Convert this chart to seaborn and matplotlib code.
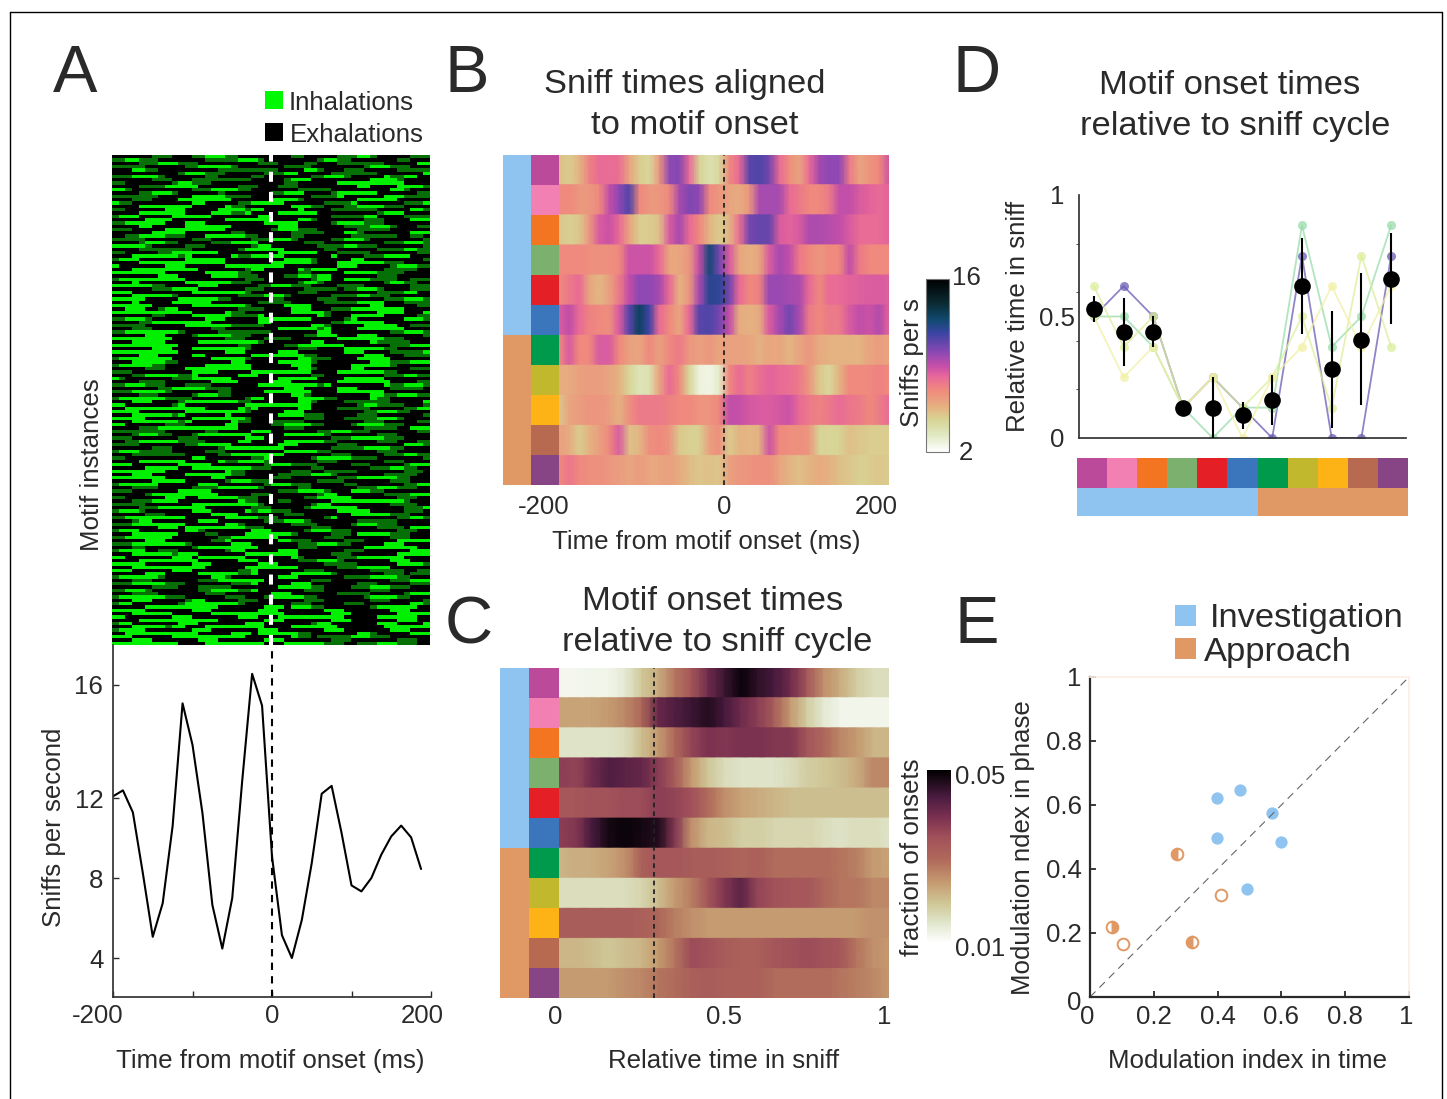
import numpy as np
import pandas as pd
import matplotlib
matplotlib.use("Agg")
import matplotlib.pyplot as plt
import seaborn as sns
from matplotlib.colors import LinearSegmentedColormap, ListedColormap
from matplotlib.lines import Line2D
from matplotlib.transforms import Affine2D

W, H = 1447, 1099
TEXT = "#2a2a2a"

motif_colors = ["#bb4a9b", "#f380b3", "#f47521", "#7cb06f", "#e41f26", "#3b75bb",
                "#009a4c", "#c2b82e", "#fdb316", "#b76a4f", "#874586"]
group_colors = ["#8fc4f0", "#e09865"]
group_codes = [0, 0, 0, 0, 0, 0, 1, 1, 1, 1, 1]

# panel A, raster: . exhalation, - faint inhalation, # inhalation
raster_rows = [
    "......---...--###--........--.....---##-.....---",
    "--##---.......-----###-........-##--.......--...",
    "....---###---.........---....--...-------.....##",
    "-----......--#####-.......----........-###---...",
    "...##--.........---------....##-...---.....-----",
    "..........-###---......---##.....-------.......#",
    "---####-......--.....--.......--###-.....---##..",
    "......---...---------.....-###.........-----....",
    "--.......-##---...........--......---####---....",
    "....----#####......---...---.........--....-###-",
    "##-.........---####--.......-----.........---...",
    "....--###-......-.......--###....--####-......--",
    "-------.....---------.........-----......###----",
    "...---....###-----......-##--........---##-.....",
    "#--.........--.....---####......-----.......---#",
    "....-####---.....---.......-----...--####---....",
    "--......---.....-###---.....-....-------.....##-",
    "....-------....------....---###.........-###....",
    "-###.....--###-.......--.........-----##....----",
    ".....----........--####-....---.......---....###",
    "--#####-...---.........--##-.....-####---.......",
    "....--.....-------.......---.......----###-...--",
    "---.....--######-.......-###---......-----......",
    "......-----.......--.......-----...##-.......###",
    "..--####---...-#####--.....--.......-------..--.",
    "-----.......---......---###-.....--###-........-",
    "....-###--.....---####.......---.........---###-",
    "#####-.....---.......---.......----##---.......-",
    "....--------.......-####--......--......----##--",
    "--.....--####---.........---###...-----.......--",
    "...-######--......--------.......-....---####...",
    "----.......-####-.........--##-.....--.........-",
    "....--########---.......-------...-----##---....",
    "-.......---......--####---........---.....-###--",
    "...----#####-.......---.....--###-.......-----..",
    "--###---......-------.......--.....-####----....",
    ".......---.....-###---....--##---.......---.....",
    "-----####--.........---.......---..--------..---",
    "...-.......-#####----.......-##-.........-##--..",
    "---###--.....---......--###---....----.......---",
    "......-------.......---......-----.--###-....---",
    "#--.........--######-.......---.........----##..",
    "...---###-.........----###-......----##---......",
    "-----.....---##---......--.....---.......---###-",
    "...-.....------.......-----.....-----###-...----",
    "####--......-----###-.....-##-.........--.....--",
    "..---..---.........----....---...---####----....",
    "----####----.....---.......---##-.......----...#",
    "......--....-#####-----........--...-----.....--",
    "--###-........---.....--####--.....--.......###-",
    "....--######---.......--.........--####--.......",
    "-----......---####-----.......---.....-----..---",
    "...---.........--........--###---....-----##....",
    "--########-.....--------.......--.........--###-",
    ".....---....-#####---........--##-...---.......-",
    "#####----........---...----.......--#####---....",
    "...-----.....----#####-.......--.......------...",
    "-###------.........--.....--###----.......---###",
    "......---...-###-----.......---....-#####--.....",
    "---######-.......---.....---.......---....-----#",
    "....---.....--.......-######---.......---...----",
    "----###--......-####-.......-----....-###-......",
    "...-------........--.....--###-........------###",
    "-#####--......-------......---......---##--.....",
    ".....---...--#######-.......---.....--.......---",
    "---.........----.....--####---....--####---.....",
    "...--#####---......---........--.........---##--",
    "#-.......----###--.......---###....------.......",
    "....----.......----.....---.......-#####--....--",
    "--###---...----.......--###------........---###-",
    ".......--#####----........---.....---.....-----.",
    "---#####-.......--.....--####-....-###---.......",
    "....---.....-###--.........---.........----###--",
    "-----###----........---.....-###--.....---......",
    "...---....---####----.......---....-------.....#",
    "--.......--.........--#####---.......-##----...-",
    "..-########---.....---......--....-----.....--##",
    "----.......-----###--.....---.........--###--...",
    "...--###---......-.......-###---.....---.......-",
    "-----.......--######-........---...-----###-....",
    "...---####--......---...-----.........---.....--",
    "#-......---......--.....--####--....-####---....",
    "....---###########-.......---.........-----..###",
    "--------......--.....---.......--###---.......--",
    "...-###--...-####----.....---###-.......---.....",
    "---.......---.......---..........---#####---....",
    "..--######----.....--.....--####--......---...--",
    "----.......--####-.......---......---.......###-",
    "......---.......---##-----.......-----####--....",
    "-###-----.....---.........--###--.......---.....",
    "...--------.....--#######-.......---.....---##--",
    "--..........--.......---......-#####----.......-",
    "....-####--.....---####-.......---.......---....",
    "---.......-----........-###----.....---.....-###",
    ".....-----..-########---......--.......---##--..",
    "#####---.........---.......---..-----.......---.",
    "...---.....---####--.....-----###-.......-----..",
    "--###---.......--.......---.......---######--...",
    "......-----......-###---.......----.......---...",
    "-#####-......---.......-###---.....--.......--##",
    "...----.....----######-.....--.......---###---..",
    "---.......-----..........---####-...-----.......",
    ".....-#######---.....---.......---.......----###",
    "--......---..--###----.......---###-.......---..",
    "...---###-.........---...--......-----######-...",
    "-----.......---#######-.......---.........----..",
    "....----###---.......---.....-###----.......---#",
    "-###-.......---.....--##---.......-----.....---.",
    ".....---.......----.......---.......--####---...",
    "--######---......-####---.......--.........--##-",
    "...---.......---.......---###-.......------.....",
    "----###----......---.......----.....-###---.....",
    ".......---.--#######---.......---.......----.###",
    "-##-.......---.......---.....-###---.......---..",
    "...-------....--....---####-.....---.#####---...",
    "--####---.......---#####-.......---.......---...",
    ".....---.......---.......-----.....---.....--###",
    "---#######--......---.......---###--.....---....",
    "...--.......-######---......---.......-####---..",
    "-----..---.......---.....---.......---.......---",
    "...-#####----.......---###--.....---.......---##",
    "--.......---.###----.......--.....---####---....",
    "....---###---......---......---###-.......---...",
    "-----.......---.......---.......-----......-###-",
    "...--#######--......--####--......---###--......",
    "---......---.......---.......---.......-----..--",
    ".....---.....-#####---.....--####-.......---.---",
    "-###----.......---.......---.......----####--...",
    "...---.......---#####--.......---.........---###",
    "---#####---.......----.....---.......---.....---",
    "......----...-----.......-###---....---###---...",
    "--###-.......--####---.......---.......---......",
    "...----.......---.......---.......-----.....-###",
    "-#######---......---...-#####--.......-####--...",
    "...---.....---.....---.......---.......---.....-",
    "---.......-#####----.......---.....---.......---",
    ".....--######---.......---.###--.......-###---..",
    "-----.......---.......---.......---.......---...",
    "...-###--......---#####---.......---.......---##",
    "--.......---.......---...--####----.....-####-..",
    "....---#######--.......---.......---.......---..",
    "---.......---.......---.......---.......---....#",
    "...--###---...-######--....-###---.......-###---",
    "-----.......---.......---.......---.......---...",
    "..-#######---.....---.######--.......---.....###",
    "---......--######---.......---.-----###---......",
    "...---.......---.......---.......---.......---..",
    "--#####---....--####---...-#####---..---###---..",
]
raster_levels = {".": 0, "-": 1, "#": 2}
# brighter patches of inhalations: time in ms, raster row
patch_ms = [-143, -86, -93, 8, 121, -165, -83, 8, -93, 91, -194, -98, 133, 24, -161, -77, -68, 91,
            108, 8, 11, -81, -169, 108, 8, -26, 11, -165, -98, -102, 96, -68, -140, -18, -10, -89,
            -174, 153, 8, -161, -77, 96, -1, -10, -161, -89, 162]
patch_row = [19, 20, 15, 17, 10, 34, 33, 31, 38, 34, 43, 47, 48, 49, 58, 60, 64, 56,
             62, 63, 68, 77, 77, 69, 75, 85, 87, 95, 95, 105, 105, 107, 113, 117, 120, 123,
             123, 120, 128, 138, 138, 140, 139, 145, 146, 143, 139]

# panel A, sniff rate
sniff_times = [-200, -187.5, -175, -162.5, -150, -137.5, -125, -112.5, -100, -87.5, -75, -62.5,
               -50, -37.5, -25, -12.5, 0, 12.5, 25, 37.5, 50, 62.5, 75, 87.5,
               100, 112.5, 125, 137.5, 150, 162.5, 175, 187.5]
sniff_rate = [12.06, 12.27, 11.28, 8.25, 5.06, 6.74, 10.6, 15.35, 13.88, 11.25, 6.65, 4.47,
              7.0, 12.6, 16.39, 15.27, 9.08, 5.14, 4.0, 5.9, 8.75, 12.15, 12.43, 10.25,
              7.63, 7.33, 8.0, 9.17, 10.08, 10.62, 10.03, 8.45]
rate_ticks = [4, 8, 12, 16]
# the axis labels are not evenly spaced in the figure, 12 to 16 is stretched
rate_marks = [2.05, 4, 8, 12, 16, 17.4]
rate_pixels = [0, 39, 119, 199, 312, 352]

# panel B, sniffs per s, one row per motif
sniff_heat = [
    [5.2, 4.8, 5.5, 7.2, 8, 8, 7.8, 6, 4.8, 4.4, 6.5, 10, 10.2, 8, 4.6, 3.8, 4.4, 7, 8, 11, 11.2, 10.5, 8, 6.8, 6, 8, 9.6, 10, 10, 7.5, 6, 6.6, 7, 8.8],
    [7, 7, 6.5, 6.5, 7, 9, 10, 11.2, 7, 6.5, 6.5, 7, 9.5, 10.3, 10, 7, 6.5, 6, 5.8, 6.5, 9.5, 9.6, 9.5, 8, 7.5, 7, 7, 7.5, 9, 9, 8.5, 8.2, 8, 8.2],
    [5, 4.7, 5, 6.5, 8.5, 8.8, 8, 6, 4.8, 4.8, 5.2, 8.5, 9.5, 8, 7, 5.5, 4.8, 5.5, 7.8, 10.5, 10.8, 10.8, 8.5, 8.2, 8.5, 9.4, 9.4, 9.2, 9, 8.5, 8, 8, 8, 8.2],
    [7, 7, 7, 6.8, 6.8, 6.8, 7, 8.8, 8.8, 8.8, 8, 6, 6, 6.5, 9, 12.5, 10.5, 8.5, 6, 5.6, 6, 8.5, 9.5, 9, 7.5, 7, 6.5, 7, 7, 9, 7.5, 7, 7, 7],
    [7, 7.5, 8, 6, 5.4, 6.2, 7.5, 9, 10, 10, 9.5, 8, 5.6, 6.5, 9.5, 12, 11.8, 10.5, 8, 7, 7.2, 9.8, 9.8, 9.6, 9.4, 8, 7, 8, 8, 8.2, 8.3, 8.5, 8.5, 8.3],
    [8.5, 9, 8, 7.2, 7, 6.8, 8.5, 11, 13, 11.5, 8, 7, 6, 8, 11, 11.2, 10.5, 9, 5.8, 5.6, 5.8, 8.5, 9.5, 10.5, 9.5, 7.5, 7, 7.5, 7.5, 8.5, 9, 8.8, 9.3, 8.2],
    [7, 8.5, 7, 7, 8.5, 8.5, 7, 6.2, 6, 7, 6.2, 7, 7.5, 6.5, 6.2, 6.5, 6, 6.2, 6.2, 6, 5.6, 6, 6, 5.5, 6, 6.5, 5.8, 5.6, 5.6, 5.6, 5.5, 6, 6.3, 6],
    [5.8, 5.8, 6.2, 6.3, 6.3, 6, 5.6, 4.5, 3.6, 3.8, 6, 8, 7, 4.5, 2.8, 2.6, 3.2, 7, 8, 7.2, 7.8, 8.2, 8, 7.8, 7.5, 6.5, 5, 4.4, 5.5, 7, 7, 7, 7.2, 7],
    [5, 6, 6.3, 6.6, 6.6, 6.3, 5.6, 6.8, 7.5, 7.5, 7.5, 7.2, 7, 7, 6.6, 6.6, 7, 9, 8.9, 8.6, 8.5, 8.4, 8.6, 8.8, 8, 7.5, 7.2, 7.5, 8, 7.6, 7.5, 7, 7.4, 8],
    [6.2, 5.8, 4.8, 5.6, 6.2, 7, 8.5, 5.2, 5.4, 6.8, 7, 6.6, 4.9, 4.7, 4.7, 6.2, 6.8, 4.8, 5.6, 5.4, 5.6, 8.8, 7, 6.8, 6.8, 6.5, 4.6, 4.5, 4.6, 5.2, 5, 4.8, 4.8, 4.8],
    [7, 7.6, 7, 6.8, 6.8, 6.5, 6.3, 6, 6.3, 6, 6, 6.2, 5.8, 5.3, 5, 5.2, 5, 6.2, 6.5, 6.6, 6.8, 6.8, 6, 5.5, 5.2, 5.5, 5.8, 5.6, 5.2, 5, 4.7, 4.8, 5, 4.8],
]
sniff_levels = [2, 3.4, 4.6, 5.65, 7, 8.1, 8.9, 10, 11.6, 12.7, 14, 16]
sniff_shades = ["#ffffff", "#dfe8c0", "#d8d494", "#e6b080", "#f08a7e", "#e8689a",
                "#c850a8", "#9048b4", "#3c44a4", "#104a70", "#0c2c34", "#000000"]

# panel C, fraction of onsets x 1000
onset_heat = [
    [11.5, 11.5, 12, 12, 14, 19, 22, 28, 33, 40, 45, 49, 46, 44, 40, 33, 25, 22, 18, 16, 16],
    [23, 23, 23, 24, 26, 30, 41, 43, 45, 47, 44, 40, 37, 32, 24, 18, 14, 12, 12, 12, 12],
    [15, 15, 15, 15, 16, 20, 24, 30, 36, 39, 38, 39, 39, 38, 38, 33, 30, 26, 24, 21, 21],
    [37, 36, 40, 43, 42, 41, 37, 32, 24, 19, 16, 15, 15, 15, 16, 18, 19, 20, 22, 26, 26],
    [33, 33, 34, 34, 35, 35, 37, 36, 34, 29, 25, 23, 22, 21, 20, 20, 20, 20, 20, 20, 20],
    [37, 38, 44, 48, 49, 48, 47, 38, 25, 21, 20, 18, 18, 17, 17, 17, 16, 15, 16, 16, 15],
    [21, 22, 22, 23, 25, 31, 33, 33, 32, 32, 31, 30, 31, 29, 29, 29, 29, 28, 27, 24, 23],
    [16, 16, 16, 16, 16, 17, 20, 24, 27, 33, 38, 42, 36, 34, 33, 33, 30, 28, 28, 26, 26],
    [32, 32, 32, 32, 32, 31, 30, 27, 25, 24, 24, 24, 24, 24, 24, 24, 24, 24, 24, 25, 25],
    [21, 21, 20, 19, 20, 21, 24, 28, 35, 34, 32, 31, 31, 33, 34, 35, 34, 33, 28, 25, 24],
    [24, 24, 24, 24, 25, 26, 28, 29, 31, 32, 31, 31, 31, 29, 29, 29, 29, 28, 27, 26, 24],
]
onset_levels = [10, 14.6, 19.2, 23.8, 29.2, 34.6, 39.2, 43.8, 50]
onset_shades = ["#ffffff", "#e0e6cc", "#cfc695", "#c69c72", "#b06a5a", "#a0505a",
                "#7a3050", "#4a1c40", "#000000"]

# panel D
motif_pos = [1, 2, 3, 4, 5, 6, 7, 8, 9, 10, 11]
session_a = [0.5, 0.625, 0.5, 0.125, 0.25, 0.125, 0, 0.75, 0, 0, 0.75]
session_b = [0.5, 0.5, 0.375, 0.125, 0, 0.125, 0.125, 0.875, 0.375, 0.5, 0.875]
session_c = [0.625, 0.375, 0.5, 0.125, 0.25, 0.125, 0.25, 0.5, 0.125, 0.75, 0.375]
session_d = [0.5, 0.25, 0.375, 0.125, 0.25, 0, 0.25, 0.375, 0.625, 0.375, 0.625]
session_colors = ["#6a5cb4", "#98dcaa", "#dcee9a", "#f2f0a6"]
phase_mean = [0.53, 0.437, 0.437, 0.124, 0.124, 0.093, 0.158, 0.625, 0.282, 0.405, 0.656]
phase_low = [0.478, 0.298, 0.375, 0.124, 0, 0.038, 0.052, 0.427, 0.041, 0.135, 0.471]
phase_high = [0.585, 0.577, 0.5, 0.124, 0.249, 0.148, 0.261, 0.821, 0.522, 0.677, 0.842]

# panel E
invest_time = [0.399, 0.471, 0.569, 0.399, 0.598, 0.491]
invest_phase = [0.622, 0.646, 0.576, 0.497, 0.484, 0.339]
open_time = [0.411, 0.104]
open_phase = [0.319, 0.165]
half_time = [0.07, 0.272, 0.319]
half_phase = [0.218, 0.447, 0.171]
half_side = ["right", "left", "left"]


def panel(x0, y0, x1, y1):
    # pixel box of the original image, y from the top
    return fig.add_axes([x0 / W, 1 - y1 / H, (x1 - x0) / W, (y1 - y0) / H])


def label(x, y, s, size=18.6, **kw):
    kw.setdefault("ha", "center")
    kw.setdefault("va", "center")
    fig.text(x / W, 1 - y / H, s, fontsize=size, color=TEXT, **kw)


def nudge(lab, dx, dy=0):
    lab.set_transform(lab.get_transform() + Affine2D().translate(dx, -dy))


def color_strip(box, codes, colors):
    ax = panel(*box)
    sns.heatmap(codes, cmap=ListedColormap(colors), cbar=False, ax=ax,
                xticklabels=False, yticklabels=False, vmin=0, vmax=len(colors) - 1)
    return ax


def smooth_heat(box, cbar_box, rows, cmap, vmin, vmax):
    # rows are repeated so gouraud shading only blends along the time axis
    ax = panel(*box)
    cax = panel(*cbar_box)
    sns.heatmap(np.repeat(np.array(rows), 30, axis=0), cmap=cmap, vmin=vmin, vmax=vmax,
                ax=ax, cbar_ax=cax, xticklabels=False, yticklabels=False, shading="gouraud")
    ax.set_xlim(0, len(rows[0]) - 1)
    ax.set_ylim(len(rows) * 30 - 1, 0)
    return ax, cax


sns.set_theme(style="white", font="Liberation Sans",
              rc={"axes.edgecolor": "#333333", "text.color": TEXT,
                  "xtick.color": TEXT, "ytick.color": TEXT})
fig = plt.figure(figsize=(W / 100, H / 100), dpi=100)

# image frame
for xs, ys in [((10, 1442), (12, 12)), ((10, 10), (12, 1099)), ((1442, 1442), (12, 1099))]:
    fig.add_artist(Line2D([x / W for x in xs], [1 - y / H for y in ys], color="black", lw=1))

# A raster
ax_raster = panel(112, 155, 430, 645)
raster = np.array([[raster_levels[c] for c in row.ljust(48, ".")[:48]] for row in raster_rows])
rows_idx, cols_idx = np.indices(raster.shape)
in_patch = np.zeros(raster.shape, dtype=bool)
for ms, row in zip(patch_ms, patch_row):
    col = (ms + 200) / 400 * raster.shape[1]
    in_patch |= ((cols_idx - col) / 5) ** 2 + ((rows_idx - row) / 5) ** 2 < 1
raster[in_patch & (raster == 1)] = 2
sns.heatmap(raster, cmap=ListedColormap(["#000000", "#067006", "#00f000"]), cbar=False,
            ax=ax_raster, xticklabels=False, yticklabels=False)
ax_raster.axvline(24, color="white", lw=2.9, ls=(0, (2.5, 2.5)), dash_capstyle="butt")

# A rate trace
ax_rate = panel(113, 645, 431, 997)
ax_rate.set_yscale("function", functions=(lambda v: np.interp(v, rate_marks, rate_pixels),
                                          lambda p: np.interp(p, rate_pixels, rate_marks)))
sns.lineplot(x=sniff_times, y=sniff_rate, color="black", lw=1.5, errorbar=None, ax=ax_rate)
ax_rate.axvline(0, color="black", lw=1.5, ls=(0, (3.5, 3)))
ax_rate.set_xlim(-200, 200)
ax_rate.set_ylim(rate_marks[0], rate_marks[-1])
sns.despine(ax=ax_rate)
ax_rate.set_yticks(rate_ticks, [str(v) for v in rate_ticks])
ax_rate.set_yticks([], minor=True)
ax_rate.set_xticks([-200, -100, 0, 100, 200], ["-200", "", "0", "", "200"])
ax_rate.tick_params(axis="x", direction="in", length=4, width=1, labelsize=18.6, pad=5, bottom=True)
ax_rate.tick_params(axis="y", direction="in", length=4, width=1, labelsize=18.6, pad=7, left=True)
labs = ax_rate.get_xticklabels()
nudge(labs[0], -15)
nudge(labs[4], -9)

# B
cmap_sniff = LinearSegmentedColormap.from_list(
    "sniff", [((v - 2) / 14, c) for v, c in zip(sniff_levels, sniff_shades)])
ax_b, cax_b = smooth_heat((559, 155, 889, 485), (926, 279, 949, 452), sniff_heat, cmap_sniff, 2, 16)
ax_b.axvline(16.5, color="#222222", lw=1.3, ls=(0, (2.6, 2.2)))
ax_b.set_xticks([0, 16.5, 33], ["-200", "0", "200"])
ax_b.tick_params(axis="x", length=0, labelsize=18.6, pad=7, bottom=True)
labs = ax_b.get_xticklabels()
nudge(labs[0], -15)
nudge(labs[2], -13)
cb_b = ax_b.collections[0].colorbar
cb_b.outline.set_linewidth(0.8)
cb_b.outline.set_edgecolor("#777777")
cb_b.set_ticks([2, 16], labels=["2", "16"])
cax_b.tick_params(length=0, labelsize=18.6, pad=2)
labs = cax_b.get_yticklabels()
nudge(labs[0], 7, -1)
nudge(labs[1], 0, -3)
color_strip((531, 155, 559, 485), np.arange(11).reshape(-1, 1), motif_colors)
color_strip((503, 155, 531, 485), np.array(group_codes).reshape(-1, 1), group_colors)

# C
cmap_onset = LinearSegmentedColormap.from_list(
    "onset", [((v - 10) / 40, c) for v, c in zip(onset_levels, onset_shades)])
onset_frac = (np.array(onset_heat) / 1000).tolist()
ax_c, cax_c = smooth_heat((559, 668, 889, 998), (927, 770, 951, 943), onset_frac, cmap_onset, 0.01, 0.05)
ax_c.axvline(5.76, color="#222222", lw=1.3, ls=(0, (2.6, 2.2)))
ax_c.set_xticks([0, 10, 20], ["0", "0.5", "1"])
ax_c.tick_params(axis="x", length=0, labelsize=18.6, pad=5, bottom=True)
labs = ax_c.get_xticklabels()
nudge(labs[0], -4)
nudge(labs[2], -5)
cb_c = ax_c.collections[0].colorbar
cb_c.outline.set_linewidth(0)
cb_c.set_ticks([0.01, 0.05], labels=["0.01", "0.05"])
cax_c.tick_params(length=0, labelsize=18.6, pad=3)
labs = cax_c.get_yticklabels()
nudge(labs[0], 0, 4)
nudge(labs[1], 0, 5)
color_strip((529, 668, 559, 998), np.arange(11).reshape(-1, 1), motif_colors)
color_strip((500, 668, 529, 998), np.array(group_codes).reshape(-1, 1), group_colors)

# D
ax_d = panel(1079, 195, 1406, 438)
for vals, col in zip([session_a, session_b, session_c, session_d], session_colors):
    sns.lineplot(x=motif_pos, y=vals, color=col, lw=1.3, marker="o", markersize=6.5, alpha=0.75,
                 markeredgewidth=0, errorbar=None, ax=ax_d)
ax_d.vlines(motif_pos, phase_low, phase_high, color="black", lw=1.5, zorder=5)
sns.scatterplot(x=motif_pos, y=phase_mean, color="black", s=144, linewidth=0, zorder=6, ax=ax_d)
ax_d.set_xlim(0.5, 11.5)
ax_d.set_ylim(0, 1)
sns.despine(ax=ax_d)
ax_d.set_xticks([])
ax_d.set_yticks([0, 0.5, 1], ["0", "0.5", "1"])
ax_d.set_yticks([0.2, 0.4, 0.6, 0.8], minor=True)
ax_d.tick_params(axis="y", which="major", length=0, labelsize=18.6, pad=0)
ax_d.tick_params(axis="y", which="minor", length=2, width=0.6, left=True)
for lab in ax_d.get_yticklabels():
    lab.set_ha("center")
    nudge(lab, -22)
color_strip((1077, 458, 1408, 488), np.arange(11).reshape(1, -1), motif_colors)
color_strip((1077, 488, 1408, 516), np.array(group_codes).reshape(1, -1), group_colors)

# E
ax_e = panel(1090, 677, 1409, 997)
ax_e.axline((0, 0), slope=1, color="#666666", lw=0.8, ls=(0, (7, 5)))
sns.scatterplot(x=invest_time, y=invest_phase, color=group_colors[0], s=78, linewidth=0, ax=ax_e)
ax_e.plot(open_time, open_phase, "o", ms=8.4, mfc="white", mec=group_colors[1], mew=1.4)
for x, y, side in zip(half_time, half_phase, half_side):
    ax_e.plot([x], [y], "o", ms=8.4, fillstyle=side, markerfacecoloralt="white",
              color=group_colors[1], mec=group_colors[1], mew=1.4)
ax_e.set_xlim(0, 1)
ax_e.set_ylim(0, 1)
e_ticks = [0, 0.2, 0.4, 0.6, 0.8, 1]
e_labels = ["0", "0.2", "0.4", "0.6", "0.8", "1"]
ax_e.set_xticks(e_ticks, e_labels)
ax_e.set_yticks(e_ticks, e_labels)
ax_e.tick_params(axis="both", direction="in", length=4, width=1.3, labelsize=18.6, pad=6,
                 bottom=True, left=True)
for side in ["top", "right"]:
    ax_e.spines[side].set_color("#fdeee6")
for side in ["left", "bottom"]:
    ax_e.spines[side].set_linewidth(1.6)
    ax_e.spines[side].set_color("#2a2a2a")
labs = ax_e.get_xticklabels()
nudge(labs[0], -3)
nudge(labs[5], -3)
nudge(ax_e.get_yticklabels()[0], 0, 3)

# legends
for x0, y0, col in [(265, 91, "#00f800"), (265, 123, "black"),
                    (1175, 605, group_colors[0]), (1175, 638, group_colors[1])]:
    side = 18 if x0 < 1000 else 21
    fig.patches.append(plt.Rectangle((x0 / W, 1 - (y0 + side) / H), side / W, side / H,
                                     transform=fig.transFigure, color=col, lw=0))
label(289, 103, "Inhalations", 18.6, ha="left")
label(290, 135, "Exhalations", 18.6, ha="left")
label(1210, 619, "Investigation", 24.8, ha="left")
label(1204, 652, "Approach", 24.8, ha="left")

# panel letters
for x, y, s in [(53, 75, "A"), (445, 75, "B"), (445, 626, "C"), (953, 75, "D"), (955, 626, "E")]:
    label(x, y, s, 48, ha="left")

# titles
label(685, 85, "Sniff times aligned", 24.8)
label(695, 126, "to motif onset", 24.8)
label(713, 601, "Motif onset times", 24.8)
label(717, 642, "relative to sniff cycle", 24.8)
label(1230, 85, "Motif onset times", 24.8)
label(1235, 126, "relative to sniff cycle", 24.8)

# axis labels
label(92, 465, "Motif instances", rotation=90)
label(54, 827, "Sniffs per second", rotation=90)
label(270, 1061, "Time from motif onset (ms)")
label(706, 542, "Time from motif onset (ms)")
label(912, 363, "Sniffs per s", rotation=90)
label(724, 1061, "Relative time in sniff")
label(912, 857, "fraction of onsets", rotation=90)
label(1018, 316, "Relative time in sniff", rotation=90)
label(1023, 848, "Modulation ndex in phase", rotation=90)
label(1247, 1061, "Modulation index in time")

fig.savefig("out.png", dpi=100)
